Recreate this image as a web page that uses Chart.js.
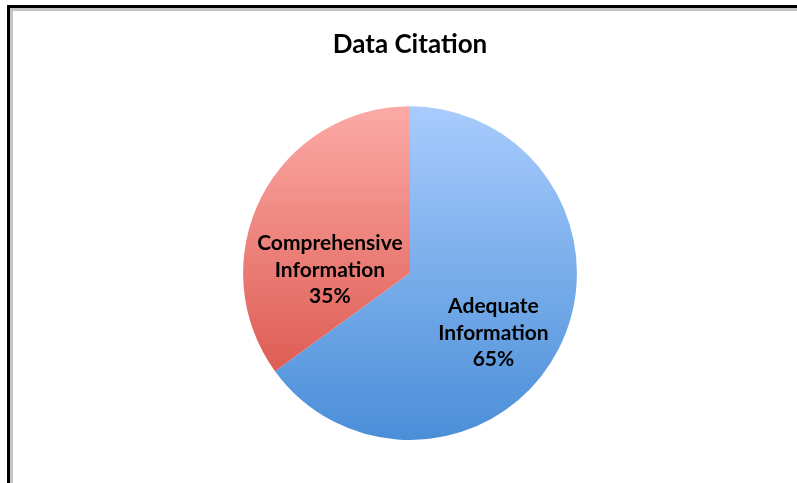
<!DOCTYPE html>
<html>
<head>
<meta charset="utf-8">
<script src="https://cdn.jsdelivr.net/npm/chart.js@4/dist/chart.umd.min.js"></script>
<style>
  html, body { margin: 0; padding: 0; background: #fff; }
  #wrap { position: relative; width: 797px; height: 483px; overflow: hidden; background: #fff; }
  #frame { position: absolute; left: 7px; top: 5px; width: 820px; height: 520px;
           border-left: 3px solid #000; border-top: 3px solid #000; }
  #frame2 { position: absolute; left: 0; top: 0; width: 100%; height: 100%;
            border-left: 3px solid #c4c4c4; border-top: 3px solid #c4c4c4; box-sizing: border-box; }
  #c { position: absolute; left: 0; top: 0; }
</style>
</head>
<body>
<div id="wrap">
  <div id="frame"><div id="frame2"></div></div>
  <canvas id="c" width="797" height="483"></canvas>
</div>
<script>
const categories = ['Adequate Information', 'Comprehensive Information'];
const labelLines = [['Adequate', 'Information'], ['Comprehensive', 'Information']];
const shares = [65, 35];

// top/bottom colours of each slice's vertical gradient
const gradientStops = [
  ['#a8ccfd', '#4a8ed8'],
  ['#fcaaa6', '#d6493f']
];

// label anchor as a fraction of the radius from the pie centre
const labelOffsets = [
  [0.50, 0.36],
  [-0.48, -0.02]
];

function sliceFill(ctx) {
  const chart = ctx.chart;
  const area = chart.chartArea;
  if (!area) return gradientStops[ctx.dataIndex][0];
  const g = chart.ctx.createLinearGradient(0, area.top, 0, area.bottom);
  const s = gradientStops[ctx.dataIndex];
  g.addColorStop(0, s[0]);
  g.addColorStop(1, s[1]);
  return g;
}

const sliceLabels = {
  id: 'sliceLabels',
  afterDatasetsDraw(chart) {
    const meta = chart.getDatasetMeta(0);
    const ctx = chart.ctx;
    ctx.save();
    ctx.font = 'bold 21px Lato, "Open Sans", sans-serif';
    ctx.fillStyle = '#000';
    ctx.textAlign = 'center';
    ctx.textBaseline = 'middle';
    meta.data.forEach((arc, i) => {
      const r = arc.outerRadius;
      const cx = arc.x + labelOffsets[i][0] * r;
      const cy = arc.y + labelOffsets[i][1] * r;
      const lines = labelLines[i].concat([shares[i] + '%']);
      const lh = 26.5;
      lines.forEach((t, k) => {
        ctx.fillText(t, cx, cy + (k - (lines.length - 1) / 2) * lh);
      });
    });
    ctx.restore();
  }
};

new Chart(document.getElementById('c'), {
  type: 'pie',
  data: {
    labels: categories,
    datasets: [{
      data: shares,
      backgroundColor: sliceFill,
      borderWidth: 0,
      hoverOffset: 0
    }]
  },
  options: {
    responsive: false,
    animation: false,
    layout: { padding: { top: 0, bottom: 43, left: 23, right: 0 } },
    plugins: {
      legend: { display: false },
      tooltip: { enabled: false },
      title: {
        display: true,
        text: 'Data Citation',
        color: '#000',
        font: { family: 'Lato, "Open Sans", sans-serif', size: 26, weight: 'bold' },
        padding: { top: 29, bottom: 46 }
      }
    }
  },
  plugins: [sliceLabels]
});
</script>
</body>
</html>
